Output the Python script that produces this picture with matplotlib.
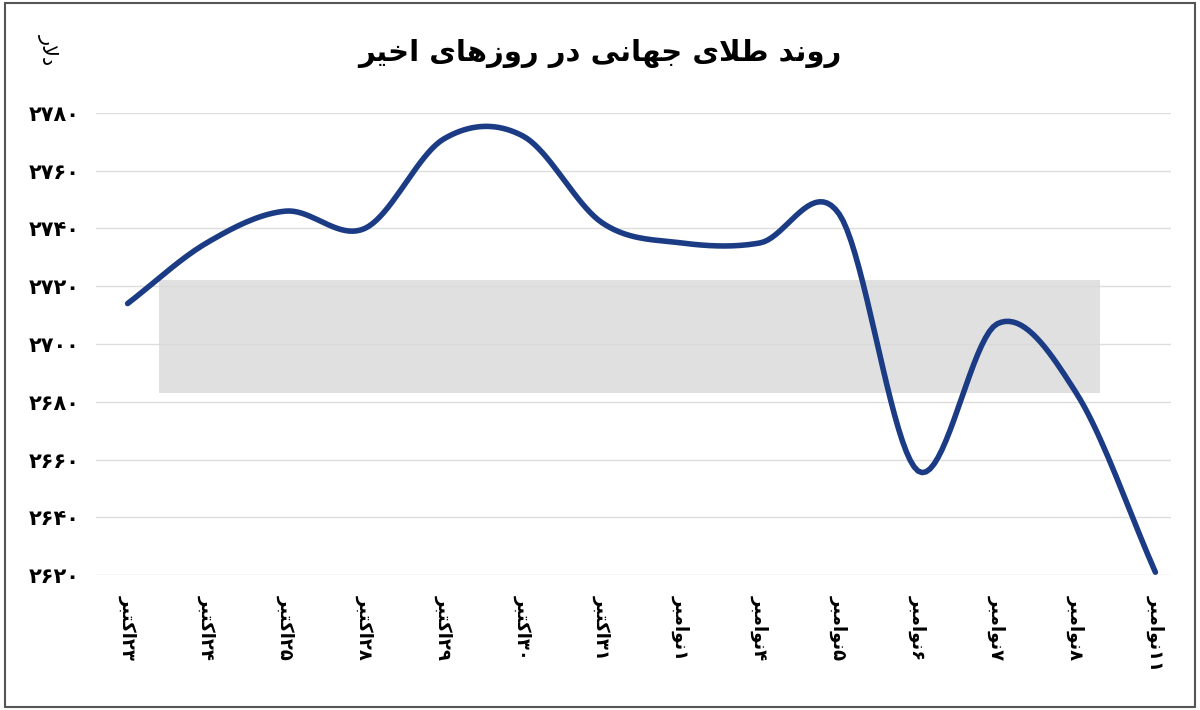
import numpy as np
import matplotlib
matplotlib.use("Agg")
import matplotlib.pyplot as plt
from matplotlib.patches import Rectangle

# ---------------- data ----------------
dates = ["۲۳ اکتبر", "۲۴ اکتبر", "۲۵ اکتبر", "۲۸ اکتبر", "۲۹ اکتبر", "۳۰ اکتبر", "۳۱ اکتبر",
         "۱ نوامبر", "۴ نوامبر", "۵ نوامبر", "۶ نوامبر", "۷ نوامبر", "۸ نوامبر", "۱۱ نوامبر"]
prices = [2714, 2735, 2746, 2740, 2771, 2772, 2742, 2735, 2735, 2745, 2656, 2707, 2683, 2621]
yticks = [2620, 2640, 2660, 2680, 2700, 2720, 2740, 2760, 2780]
title = "روند طلای جهانی در روزهای اخیر"
unit = "دلار"

# ------------- minimal Persian shaping -------------
FORMS = {  # isolated, final, initial, medial
    'ا': (0xFE8D, 0xFE8E, None, None), 'د': (0xFEA9, 0xFEAA, None, None),
    'ر': (0xFEAD, 0xFEAE, None, None), 'ز': (0xFEAF, 0xFEB0, None, None),
    'و': (0xFEED, 0xFEEE, None, None),
    'ب': (0xFE8F, 0xFE90, 0xFE91, 0xFE92), 'ت': (0xFE95, 0xFE96, 0xFE97, 0xFE98),
    'ج': (0xFE9D, 0xFE9E, 0xFE9F, 0xFEA0), 'خ': (0xFEA5, 0xFEA6, 0xFEA7, 0xFEA8),
    'ط': (0xFEC1, 0xFEC2, 0xFEC3, 0xFEC4), 'ل': (0xFEDD, 0xFEDE, 0xFEDF, 0xFEE0),
    'م': (0xFEE1, 0xFEE2, 0xFEE3, 0xFEE4), 'ن': (0xFEE5, 0xFEE6, 0xFEE7, 0xFEE8),
    'ه': (0xFEE9, 0xFEEA, 0xFEEB, 0xFEEC), 'ی': (0xFBFC, 0xFBFD, 0xFBFE, 0xFBFF),
    'ک': (0xFB8E, 0xFB8F, 0xFB90, 0xFB91),
}

def shape_word(w):
    chars = list(w)
    out = []
    i = 0
    n = len(chars)
    def joins_fwd(c):
        return c in FORMS and FORMS[c][2] is not None
    while i < n:
        c = chars[i]
        prev = chars[i - 1] if i > 0 else None
        pj = prev is not None and joins_fwd(prev)
        if c == 'ل' and i + 1 < n and chars[i + 1] == 'ا':
            out.append(chr(0xFEFC if pj else 0xFEFB))
            i += 2
            continue
        if c not in FORMS:
            out.append(c); i += 1; continue
        nxt = chars[i + 1] if i + 1 < n else None
        nj = joins_fwd(c) and nxt is not None and nxt in FORMS
        f = FORMS[c]
        if pj and nj:
            code = f[3]
        elif pj:
            code = f[1]
        elif nj:
            code = f[2]
        else:
            code = f[0]
        out.append(chr(code))
        i += 1
    return ''.join(out)

def rtl(text, sep=' '):
    words = text.split(' ')
    vis = []
    for w in reversed(words):
        if all(ch in '۰۱۲۳۴۵۶۷۸۹' for ch in w):
            vis.append(w)
        else:
            vis.append(shape_word(w)[::-1])
    return sep.join(vis)

def fa_digits(v):
    return str(v).translate(str.maketrans('0123456789', '۰۱۲۳۴۵۶۷۸۹'))

# ------------- smooth curve (Catmull-Rom) -------------
def smooth(x, y, k=20):
    x = np.asarray(x, float); y = np.asarray(y, float)
    px = np.concatenate([[2 * x[0] - x[1]], x, [2 * x[-1] - x[-2]]])
    py = np.concatenate([[2 * y[0] - y[1]], y, [2 * y[-1] - y[-2]]])
    xs, ys = [], []
    t = np.linspace(0, 1, k, endpoint=False)
    for i in range(1, len(px) - 2):
        p0, p1, p2, p3 = py[i - 1], py[i], py[i + 1], py[i + 2]
        ys.append(0.5 * (2 * p1 + (-p0 + p2) * t + (2 * p0 - 5 * p1 + 4 * p2 - p3) * t ** 2
                         + (-p0 + 3 * p1 - 3 * p2 + p3) * t ** 3))
        xs.append(px[i] + (px[i + 1] - px[i]) * t)
    xs.append([x[-1]]); ys.append([y[-1]])
    return np.concatenate(xs), np.concatenate(ys)

plt.rcParams['font.family'] = ['DejaVu Sans']
fig = plt.figure(figsize=(12, 7.1), dpi=100)
fig.patch.set_facecolor('white')
fig.add_artist(Rectangle((0.004, 0.004), 0.992, 0.992, transform=fig.transFigure,
                         fill=False, edgecolor='#555555', lw=1.5))

ax = fig.add_axes([0.08, 0.19, 0.896, 0.651])
xi = np.arange(len(prices))
ax.set_xlim(-0.4, len(prices) - 1 + 0.2)
ax.set_ylim(yticks[0], yticks[-1])
for yv in yticks:
    ax.axhline(yv, color='#dddddd', lw=1, zorder=0)

# watermark box
ax.add_patch(Rectangle((0.4, 2683), 11.9, 39, facecolor='#d9d9d9', edgecolor='none', alpha=0.8, zorder=1))

sx, sy = smooth(xi, prices)
ax.plot(sx, sy, color='#1b3c85', lw=4, zorder=3, clip_on=False, solid_capstyle='round')

for s in ax.spines.values():
    s.set_visible(False)
ax.set_yticks(yticks)
ax.set_yticklabels([fa_digits(v) for v in yticks], fontsize=15, fontweight='bold')
ax.tick_params(axis='both', length=0)
ax.tick_params(axis='y', pad=12)
ax.set_xticks(xi)
ax.set_xticklabels([rtl(d, sep='') for d in dates], rotation=270, fontsize=13,
                   fontweight='bold', va='top')
ax.tick_params(axis='x', pad=14)

fig.text(0.5, 0.925, rtl(title), ha='center', va='center', fontsize=21, fontweight='bold')
fig.text(0.04, 0.93, shape_word(unit)[::-1], rotation=270, ha='center', va='center', fontsize=15)

fig.savefig('out.png', dpi=100)
